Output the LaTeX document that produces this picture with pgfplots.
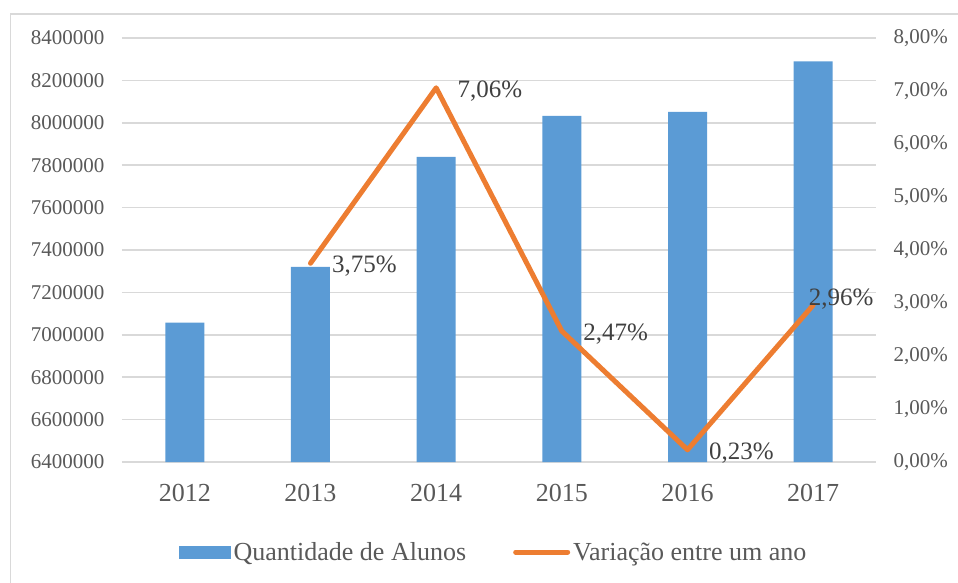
\documentclass[border=0pt]{standalone}
\usepackage{pgfplots}
\pgfplotsset{compat=1.18}
\usepackage{fontspec}
\setmainfont{Liberation Serif}
\definecolor{barblue}{HTML}{5B9BD5}
\definecolor{lineorange}{HTML}{ED7D31}
\definecolor{gridgray}{HTML}{D9D9D9}
\definecolor{ticktext}{HTML}{595959}
\definecolor{labeltext}{HTML}{404040}
\begin{document}
\begin{tikzpicture}[x=1pt,y=1pt]
\useasboundingbox (-122,-120) rectangle (836,462);
\draw[gridgray, line width=1.5pt] (-111.5,-125) -- (-111.5,448) -- (840,448);
\begin{axis}[
  at={(0,0)}, anchor=south west,
  scale only axis, width=754pt, height=424pt,
  xmin=-0.5, xmax=5.5,
  ymin=6400000, ymax=8400000,
  scaled y ticks=false,
  ytick={6400000,6600000,6800000,7000000,7200000,7400000,7600000,7800000,8000000,8200000,8400000},
  yticklabels={6400000,6600000,6800000,7000000,7200000,7400000,7600000,7800000,8000000,8200000,8400000},
  xtick={0,1,2,3,4,5},
  xticklabels={2012,2013,2014,2015,2016,2017},
  ymajorgrids, grid style={gridgray, line width=1.5pt},
  axis line style={draw=none},
  major tick length=0pt,
  yticklabel style={font=\fontsize{21}{24}\selectfont, text=ticktext, xshift=-14pt},
  xticklabel style={font=\fontsize{26}{30}\selectfont, text=ticktext, yshift=-19pt},
  legend style={at={(0.5,0)}, anchor=center, yshift=-90pt, xshift=-5pt, draw=none, fill=none,
    legend columns=2, font=\fontsize{26}{30}\selectfont, text=ticktext,
    /tikz/every even column/.append style={column sep=44pt},
    nodes={inner sep=3pt}},
]
\addplot[ybar, bar width=39pt, fill=barblue, draw=none,
  legend image code/.code={\fill[barblue] (0pt,-6.5pt) rectangle (52pt,6.5pt);}]
  coordinates {(0,7057000) (1,7321000) (2,7839000) (3,8033000) (4,8051000) (5,8290000)};
\addlegendentry{Quantidade de Alunos}
\addlegendimage{legend image code/.code={\draw[lineorange, line width=5pt, line cap=round] (0pt,0pt) -- (52pt,0pt);}}
\addlegendentry{Variação entre um ano}
\end{axis}
\begin{axis}[
  at={(0,0)}, anchor=south west,
  scale only axis, width=754pt, height=424pt,
  xmin=-0.5, xmax=5.5,
  ymin=0, ymax=8,
  axis y line*=right, axis x line=none,
  ytick={0,1,2,3,4,5,6,7,8},
  yticklabels={{0,00\%},{1,00\%},{2,00\%},{3,00\%},{4,00\%},{5,00\%},{6,00\%},{7,00\%},{8,00\%}},
  axis line style={draw=none},
  major tick length=0pt,
  yticklabel style={font=\fontsize{21}{24}\selectfont, text=ticktext, xshift=14pt},
  clip=false,
]
\addplot[lineorange, line width=5pt, line join=round, line cap=round, mark=none]
  coordinates {(1,3.75) (2,7.06) (3,2.47) (4,0.23) (5,2.96)};
\node[anchor=west, text=labeltext, font=\fontsize{25}{30}\selectfont, xshift=18pt, yshift=-3pt] at (axis cs:1,3.75) {3,75\%};
\node[anchor=west, text=labeltext, font=\fontsize{25}{30}\selectfont, xshift=18pt, yshift=-3pt] at (axis cs:2,7.06) {7,06\%};
\node[anchor=west, text=labeltext, font=\fontsize{25}{30}\selectfont, xshift=18pt, yshift=-3pt] at (axis cs:3,2.47) {2,47\%};
\node[anchor=west, text=labeltext, font=\fontsize{25}{30}\selectfont, xshift=18pt, yshift=-3pt] at (axis cs:4,0.23) {0,23\%};
\node[anchor=center, text=labeltext, font=\fontsize{25}{30}\selectfont] at ([xshift=28pt,yshift=6pt]axis cs:5,2.96) {2,96\%};
\end{axis}
\end{tikzpicture}
\end{document}
